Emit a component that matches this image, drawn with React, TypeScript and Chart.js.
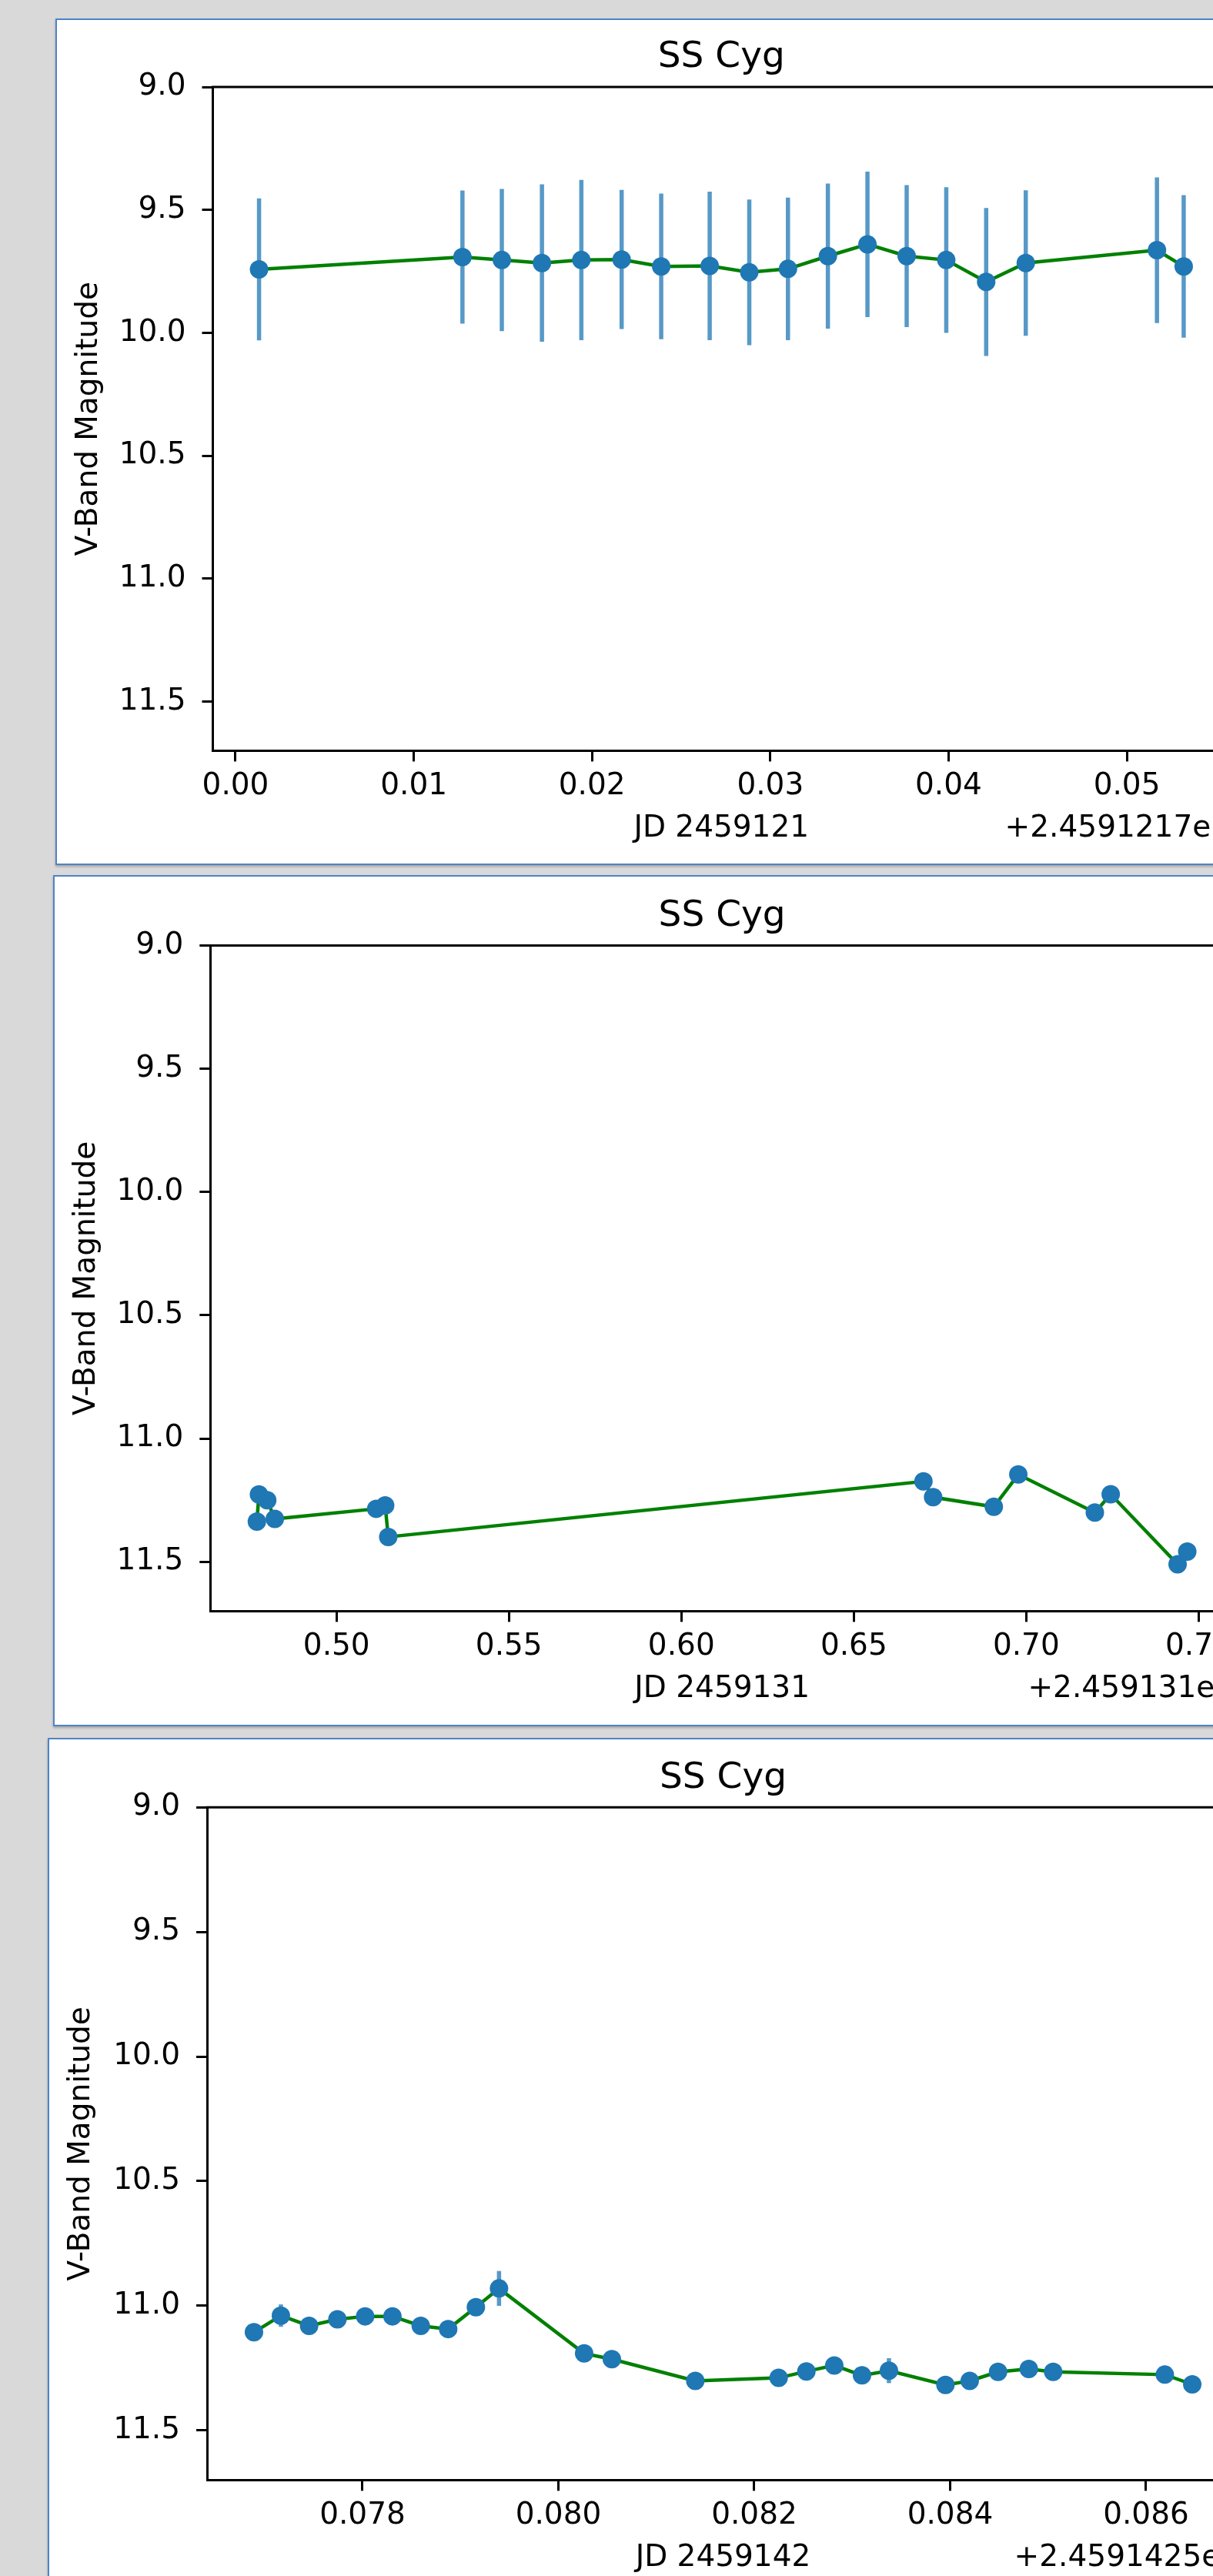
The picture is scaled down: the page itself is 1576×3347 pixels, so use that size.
import React, { useEffect, useRef } from 'react';
import { Chart, registerables } from 'chart.js';

Chart.register(...registerables);

// ---------- shared text / axes ----------
const TITLE = 'SS Cyg';
const Y_LABEL = 'V-Band Magnitude';
const Y_TICKS = [9.0, 9.5, 10.0, 10.5, 11.0, 11.5];
const Y_TICK_LABELS = ['9.0', '9.5', '10.0', '10.5', '11.0', '11.5'];
const Y_MIN = 9.0;
const Y_MAX = 11.7;

// ---------- panel 1 : JD 2459121 (offset 2459121.7) ----------
const X1_LABEL = 'JD 2459121';
const X1_OFFSET_TEXT = '+2.4591217e6';
const JD1 = [0.00132, 0.01273, 0.01494, 0.01719, 0.0194, 0.02166, 0.02388, 0.0266, 0.02882, 0.03099, 0.03323, 0.03545, 0.03765, 0.03987, 0.04211, 0.04433, 0.05169, 0.05319];
const MAG1 = [9.742, 9.692, 9.704, 9.716, 9.704, 9.702, 9.73, 9.728, 9.754, 9.74, 9.688, 9.64, 9.688, 9.704, 9.793, 9.716, 9.664, 9.73];
const ERR1 = [0.289, 0.271, 0.289, 0.32, 0.326, 0.283, 0.296, 0.302, 0.296, 0.29, 0.295, 0.296, 0.289, 0.296, 0.301, 0.296, 0.296, 0.29];
const X1_TICKS = [0.0, 0.01, 0.02, 0.03, 0.04, 0.05];
const X1_TICK_LABELS = ['0.00', '0.01', '0.02', '0.03', '0.04', '0.05'];

// ---------- panel 2 : JD 2459131 (offset 2459131) ----------
const X2_LABEL = 'JD 2459131';
const X2_OFFSET_TEXT = '+2.459131e6';
const JD2 = [0.4769, 0.4775, 0.4799, 0.4821, 0.5115, 0.5141, 0.515, 0.6702, 0.673, 0.6906, 0.6977, 0.7199, 0.7245, 0.7439, 0.7467];
const MAG2 = [11.337, 11.227, 11.25, 11.326, 11.285, 11.271, 11.399, 11.174, 11.238, 11.277, 11.146, 11.3, 11.226, 11.51, 11.459];
const ERR2 = [0.03, 0.03, 0.03, 0.03, 0.03, 0.03, 0.03, 0.03, 0.03, 0.03, 0.03, 0.03, 0.03, 0.03, 0.03];
const X2_TICKS = [0.5, 0.55, 0.6, 0.65, 0.7, 0.75];
const X2_TICK_LABELS = ['0.50', '0.55', '0.60', '0.65', '0.70', '0.75'];

// ---------- panel 3 : JD 2459142 (offset 2459142.5) ----------
const X3_LABEL = 'JD 2459142';
const X3_OFFSET_TEXT = '+2.4591425e6';
const JD3 = [0.076892, 0.077167, 0.077455, 0.077744, 0.078027, 0.078306, 0.078595, 0.078875, 0.079158, 0.079394, 0.080263, 0.080546, 0.081398, 0.082249, 0.082532, 0.082817, 0.0831, 0.083375, 0.083952, 0.0842, 0.084489, 0.084803, 0.085052, 0.086192, 0.086472];
const MAG3 = [11.107, 11.04, 11.081, 11.055, 11.043, 11.043, 11.081, 11.094, 11.006, 10.931, 11.192, 11.215, 11.302, 11.29, 11.264, 11.24, 11.28, 11.261, 11.318, 11.302, 11.266, 11.254, 11.266, 11.277, 11.316];
const ERR3 = [0.03, 0.045, 0.03, 0.03, 0.03, 0.03, 0.03, 0.03, 0.03, 0.07, 0.03, 0.03, 0.03, 0.03, 0.03, 0.03, 0.03, 0.05, 0.03, 0.03, 0.03, 0.03, 0.03, 0.03, 0.03];
const X3_TICKS = [0.078, 0.08, 0.082, 0.084, 0.086];
const X3_TICK_LABELS = ['0.078', '0.080', '0.082', '0.084', '0.086'];

// ---------- styling ----------
const FONT = 'DejaVu Sans';
const TICK_SIZE = 39;
const TITLE_SIZE = 47;
const MARKER = '#1f77b4';
const ERRCOLOR = 'rgba(31,119,180,0.75)';
const GREEN = '#008000';
const X_AXIS_H = 125;
const BORDER = 2;

type Geom = { left: number; top: number; height: number; chartL: number; chartT: number; chartR: number; chartB: number };

const G1: Geom = { left: 72, top: 24, height: 1100, chartL: 202.5, chartT: 87, chartR: 1524, chartB: 949.4 };
const G2: Geom = { left: 69, top: 1137, height: 1106, chartL: 202.3, chartT: 89.5, chartR: 1532, chartB: 954.3 };
const G3: Geom = { left: 62, top: 2258, height: 1150, chartL: 205, chartT: 88.3, chartR: 1546, chartB: 962.3 };

type PanelProps = {
  xs: number[]; ys: number[]; errs: number[];
  xTicks: number[]; xTickLabels: string[];
  xLabel: string; offsetText: string; g: Geom;
};

function Panel({ xs, ys, errs, xTicks, xTickLabels, xLabel, offsetText, g }: PanelProps) {
  const ref = useRef<HTMLCanvasElement | null>(null);
  const canvasW = Math.round(g.chartR + 100);
  const canvasH = g.height - 2 * BORDER;

  useEffect(() => {
    if (!ref.current) return;
    const lo = Math.min(...xs);
    const hi = Math.max(...xs);
    const pad = (hi - lo) * 0.05;
    const pts = xs.map((x, i) => ({ x, y: ys[i] }));

    const errPlugin = {
      id: 'errbars',
      beforeDatasetsDraw(chart: any) {
        const { ctx, scales } = chart;
        ctx.save();
        ctx.strokeStyle = ERRCOLOR;
        ctx.lineWidth = 5.5;
        xs.forEach((v, i) => {
          const px = scales.x.getPixelForValue(v);
          ctx.beginPath();
          ctx.moveTo(px, scales.y.getPixelForValue(ys[i] - errs[i]));
          ctx.lineTo(px, scales.y.getPixelForValue(ys[i] + errs[i]));
          ctx.stroke();
        });
        ctx.restore();
      },
    };

    const framePlugin = {
      id: 'frame',
      afterDraw(chart: any) {
        const { ctx, chartArea, scales } = chart;
        ctx.save();
        ctx.strokeStyle = '#000';
        ctx.lineWidth = 3;
        ctx.beginPath();
        ctx.moveTo(chartArea.left - 1.5, chartArea.top);
        ctx.lineTo(chartArea.right, chartArea.top);
        ctx.lineTo(chartArea.right, chartArea.bottom);
        ctx.stroke();
        ctx.fillStyle = '#000';
        ctx.font = `${TICK_SIZE}px "${FONT}"`;
        ctx.textAlign = 'right';
        ctx.textBaseline = 'middle';
        ctx.fillText(offsetText, chartArea.right, scales.x.bottom - (TICK_SIZE * 1.2) / 2);
        ctx.restore();
      },
    };

    const tickFont = { family: FONT, size: TICK_SIZE, weight: 'normal' as const, lineHeight: 1.2 };

    const chart = new Chart(ref.current, {
      type: 'line',
      data: {
        datasets: [
          {
            data: pts,
            showLine: false,
            pointRadius: 12,
            pointHoverRadius: 12,
            pointBackgroundColor: MARKER,
            pointBorderWidth: 0,
            borderColor: MARKER,
            order: 0,
          },
          {
            data: pts,
            borderColor: GREEN,
            borderWidth: 4.5,
            pointRadius: 0,
            pointHoverRadius: 0,
            tension: 0,
            fill: false,
            order: 1,
          },
        ],
      },
      options: {
        animation: false,
        responsive: false,
        devicePixelRatio: 1,
        events: [],
        layout: {
          padding: { left: 0, top: 0, right: canvasW - g.chartR, bottom: canvasH - g.chartB - X_AXIS_H },
        },
        plugins: {
          legend: { display: false },
          tooltip: { enabled: false },
          title: {
            display: true,
            text: TITLE,
            fullSize: false,
            color: '#000',
            font: { family: FONT, size: TITLE_SIZE, weight: 'normal', lineHeight: 1.2 },
            padding: { top: g.chartT - 66.2, bottom: 9.8 },
          },
        },
        scales: {
          x: {
            type: 'linear',
            position: 'bottom',
            min: lo - pad,
            max: hi + pad,
            afterBuildTicks: (s: any) => { s.ticks = xTicks.map((v) => ({ value: v })); },
            afterFit: (s: any) => { s.height = X_AXIS_H; },
            ticks: {
              callback: (_v: any, i: number) => xTickLabels[i],
              autoSkip: false,
              maxRotation: 0,
              minRotation: 0,
              color: '#000',
              font: tickFont,
              padding: 9,
            },
            grid: { display: true, drawOnChartArea: false, drawTicks: true, tickLength: 14, color: '#000', lineWidth: 3 },
            border: { display: true, color: '#000', width: 3 },
            title: { display: true, text: xLabel, color: '#000', font: tickFont, padding: { top: 0, bottom: 0 } },
          },
          y: {
            type: 'linear',
            position: 'left',
            reverse: true,
            min: Y_MIN,
            max: Y_MAX,
            afterBuildTicks: (s: any) => { s.ticks = Y_TICKS.map((v) => ({ value: v })); },
            afterFit: (s: any) => { s.width = g.chartL; },
            ticks: {
              callback: (_v: any, i: number) => Y_TICK_LABELS[i],
              autoSkip: false,
              color: '#000',
              font: tickFont,
              padding: 21,
            },
            grid: { display: true, drawOnChartArea: false, drawTicks: true, tickLength: 14, color: '#000', lineWidth: 3 },
            border: { display: true, color: '#000', width: 3 },
            title: { display: true, text: Y_LABEL, color: '#000', font: tickFont, padding: { top: 18, bottom: 0 } },
          },
        },
      },
      plugins: [errPlugin, framePlugin],
    } as any);
    return () => chart.destroy();
  }, []);

  return (
    <div
      style={{
        position: 'absolute',
        left: g.left,
        top: g.top,
        width: 1800,
        height: g.height,
        boxSizing: 'border-box',
        border: `${BORDER}px solid #4f83c7`,
        background: '#fff',
        boxShadow: '0 2px 3px rgba(0,0,0,0.25)',
        overflow: 'hidden',
      }}
    >
      <canvas ref={ref} width={canvasW} height={canvasH} style={{ display: 'block', position: 'absolute', left: 0, top: 0 }} />
    </div>
  );
}

export default function App() {
  useEffect(() => {
    document.body.style.margin = '0';
    document.body.style.overflow = 'hidden';
  }, []);
  return (
    <div style={{ position: 'absolute', left: 0, top: 0, width: 1576, height: 3347, overflow: 'hidden', background: '#d9d9d9', fontFamily: FONT }}>
      <Panel xs={JD1} ys={MAG1} errs={ERR1} xTicks={X1_TICKS} xTickLabels={X1_TICK_LABELS} xLabel={X1_LABEL} offsetText={X1_OFFSET_TEXT} g={G1} />
      <Panel xs={JD2} ys={MAG2} errs={ERR2} xTicks={X2_TICKS} xTickLabels={X2_TICK_LABELS} xLabel={X2_LABEL} offsetText={X2_OFFSET_TEXT} g={G2} />
      <Panel xs={JD3} ys={MAG3} errs={ERR3} xTicks={X3_TICKS} xTickLabels={X3_TICK_LABELS} xLabel={X3_LABEL} offsetText={X3_OFFSET_TEXT} g={G3} />
    </div>
  );
}
